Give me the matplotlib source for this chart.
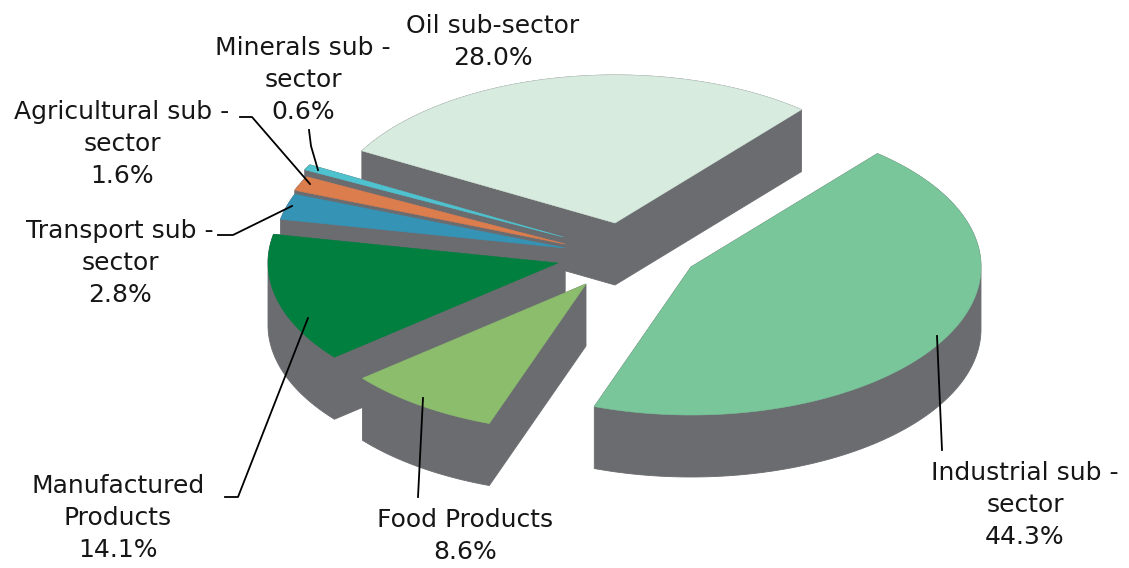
import numpy as np
import matplotlib.pyplot as plt

# sector shares, counter-clockwise from the oil slice
sectors = ['Oil sub-sector', 'Minerals sub -\nsector', 'Agricultural sub -\nsector',
           'Transport sub -\nsector', 'Manufactured\nProducts', 'Food Products',
           'Industrial sub -\nsector']
shares = [28.0, 0.6, 1.6, 2.8, 14.1, 8.6, 44.3]
colors = ['#d7ebdf', '#4ec3cf', '#dc7d4d', '#3593b5', '#007f3e', '#8bbd6d', '#79c69a']
side_col = '#6b6c70'

# pie geometry in pixel units (y grows downward)
cx, cy = 565, 245
rx, ry = 290, 148
depth = 62
start = 50.0

# pull-out of each slice, and the painter's order (back to front)
offsets = [(50, -22), (-2, -8), (0, -1), (0, 3), (-7, 18), (21, 39), (126, 22)]
draw_order = [0, 1, 2, 3, 4, 6, 5]

# label block centres and leader lines
label_pos = [(493, 42), (303, 80), (122, 144), (120, 263), (118, 518), (465, 536), (1025, 505)]
leaders = [None,
           [(309, 130), (311, 146), (318, 170)],
           [(240, 117), (252, 117), (310, 184)],
           [(218, 235), (233, 235), (292, 206)],
           [(225, 497), (238, 497), (308, 318)],
           [(418, 497), (423, 398)],
           [(942, 450), (937, 336)]]


def hull(pts):
    pts = sorted(set(map(tuple, np.round(pts, 3))))
    def cross(o, a, b):
        return (a[0]-o[0])*(b[1]-o[1]) - (a[1]-o[1])*(b[0]-o[0])
    lo, up = [], []
    for p in pts:
        while len(lo) >= 2 and cross(lo[-2], lo[-1], p) <= 0:
            lo.pop()
        lo.append(p)
    for p in reversed(pts):
        while len(up) >= 2 and cross(up[-2], up[-1], p) <= 0:
            up.pop()
        up.append(p)
    return np.array(lo[:-1] + up[:-1])


fig = plt.figure(figsize=(11.29, 5.68), dpi=100)
ax = fig.add_axes([0, 0, 1, 1])
ax.set_xlim(0, 1129)
ax.set_ylim(568, 0)
ax.axis('off')

edges = start + np.concatenate([[0], np.cumsum(shares)]) * 3.6
for i in draw_order:
    a0, a1 = edges[i], edges[i + 1]
    t = np.radians(np.linspace(a0, a1, max(3, int((a1 - a0) * 2))))
    ox, oy = cx + offsets[i][0], cy + offsets[i][1]
    top = np.vstack([[ox, oy], np.column_stack([ox + rx*np.cos(t), oy - ry*np.sin(t)])])
    body = hull(np.vstack([top, top + [0, depth]]))
    ax.fill(body[:, 0], body[:, 1], color=side_col, lw=0.6, ec=side_col, zorder=2)
    ax.fill(top[:, 0], top[:, 1], color=colors[i], lw=0.4, ec=colors[i], zorder=2)

for name, val, (x, y), ln in zip(sectors, shares, label_pos, leaders):
    ax.text(x, y, f'{name}\n{val:.1f}%', ha='center', va='center', ma='center',
            fontsize=18, family='DejaVu Sans', color='#161616', linespacing=1.42, zorder=4)
    if ln:
        ln = np.array(ln)
        ax.plot(ln[:, 0], ln[:, 1], color='black', lw=1.3, zorder=3)

fig.savefig('out.png', dpi=100)
